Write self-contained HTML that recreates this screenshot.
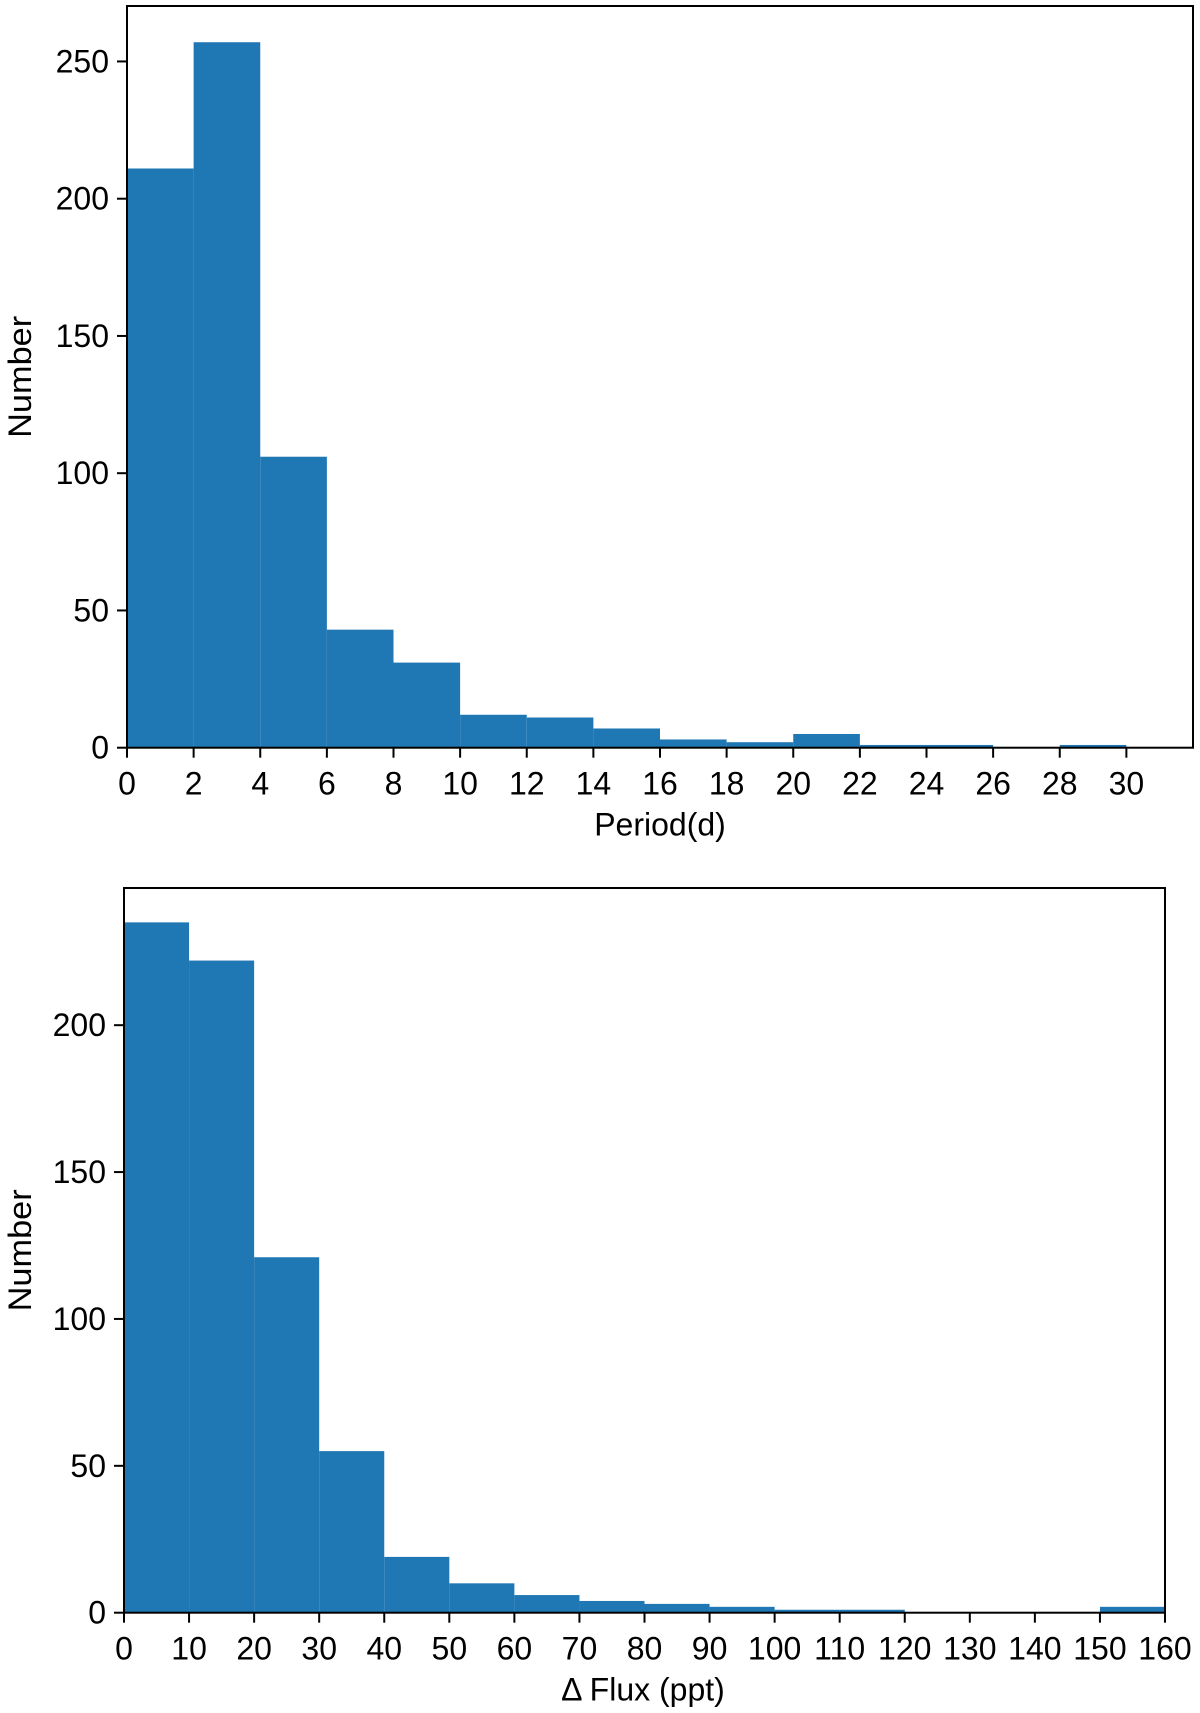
<!DOCTYPE html>
<html><head><meta charset="utf-8"><style>
body{margin:0;background:#fff}
svg{display:block;font-family:"Liberation Sans",Arial,sans-serif}
</style></head><body>
<svg id="chart" width="1200" height="1713" viewBox="0 0 1200 1713" xmlns="http://www.w3.org/2000/svg"></svg>
<script>
const periodEdges = [0,2,4,6,8,10,12,14,16,18,20,22,24,26,28,30];
const periodCounts = [211,257,106,43,31,12,11,7,3,2,5,1,1,0,1];
const periodXTicks = [0,2,4,6,8,10,12,14,16,18,20,22,24,26,28,30];
const periodYTicks = [0,50,100,150,200,250];
const fluxEdges = [0,10,20,30,40,50,60,70,80,90,100,110,120,130,140,150,160];
const fluxCounts = [235,222,121,55,19,10,6,4,3,2,1,1,0,0,0,2];
const fluxXTicks = [0,10,20,30,40,50,60,70,80,90,100,110,120,130,140,150,160];
const fluxYTicks = [0,50,100,150,200];

const NS = "http://www.w3.org/2000/svg";
const svg = document.getElementById('chart');
function mk(tag, attrs, parent){
  const e = document.createElementNS(NS, tag);
  for (const k in attrs) e.setAttribute(k, attrs[k]);
  (parent||svg).appendChild(e);
  return e;
}
function panel(cfg){
  const g = mk('g', {});
  
  
  const xs = v => cfg.left + (v - cfg.xmin) / (cfg.xmax - cfg.xmin) * (cfg.right - cfg.left);
  const ys = v => cfg.bottom - v / cfg.ymax * (cfg.bottom - cfg.top);
  cfg.counts.forEach((c, i) => {
    if (c <= 0) return;
    const x0 = xs(cfg.edges[i]), x1 = xs(cfg.edges[i+1]);
    const r = mk('rect', {x:x0, y:ys(c), width:x1-x0, height:ys(0)-ys(c), fill:'#1f77b4'}, g);
    
    
  });
  const frame = mk('rect', {x:cfg.left, y:cfg.top, width:cfg.right-cfg.left, height:cfg.bottom-cfg.top, fill:'none', stroke:'#000', 'stroke-width':2}, g);
  
  
  cfg.xticks.forEach(v => {
    const x = xs(v);
    mk('line', {x1:x, x2:x, y1:cfg.bottom, y2:cfg.bottom+10, stroke:'#000', 'stroke-width':2}, g);
    const t = mk('text', {x:x, y:cfg.bottom+47, 'font-size':32, 'text-anchor':'middle', fill:'#000'}, g);
    
    
    t.textContent = v;
  });
  cfg.yticks.forEach(v => {
    const y = ys(v);
    mk('line', {x1:cfg.left-10, x2:cfg.left, y1:y, y2:y, stroke:'#000', 'stroke-width':2}, g);
    const t = mk('text', {x:cfg.left-18, y:y+11, 'font-size':32, 'text-anchor':'end', fill:'#000'}, g);
    
    
    t.textContent = v;
  });
  const xl = mk('text', {x:cfg.xlabelX, y:cfg.bottom+88, 'font-size':32, 'text-anchor':'middle', fill:'#000'}, g);
  
  
  xl.textContent = cfg.xlabel;
  const cy = (cfg.top + cfg.bottom) / 2;
  const yl = mk('text', {x:31, y:cy, 'font-size':32, 'text-anchor':'middle', fill:'#000', transform:'rotate(-90 31 '+cy+')', textLength:122, lengthAdjust:'spacingAndGlyphs'}, g);
  
  
  yl.textContent = 'Number';
}
panel({name:'period-histogram', left:127, right:1193, top:6, bottom:747.7, xmin:0, xmax:32, ymax:270.2,
  edges:periodEdges, counts:periodCounts, xticks:periodXTicks, yticks:periodYTicks, xlabel:'Period(d)', xlabelX:660});
panel({name:'flux-histogram', left:124, right:1165, top:888, bottom:1612.7, xmin:0, xmax:160, ymax:246.7,
  edges:fluxEdges, counts:fluxCounts, xticks:fluxXTicks, yticks:fluxYTicks, xlabel:'Δ Flux (ppt)', xlabelX:643});
</script>
</body></html>
